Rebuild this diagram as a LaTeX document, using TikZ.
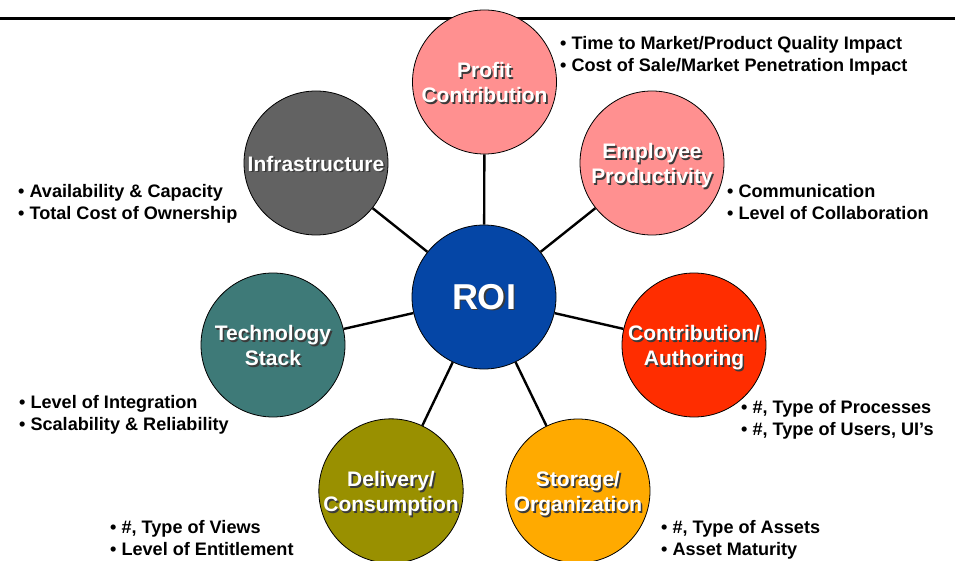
\documentclass[tikz,border=0pt]{standalone}
\usepackage{fontspec}
\setmainfont{Liberation Sans}
\definecolor{pinkc}{HTML}{FF9090}
\definecolor{grayc}{HTML}{626262}
\definecolor{tealc}{HTML}{3E7A78}
\definecolor{bluec}{HTML}{0546A6}
\definecolor{redc}{HTML}{FF2D00}
\definecolor{olivec}{HTML}{999000}
\definecolor{orangec}{HTML}{FFAA00}
\definecolor{shadowc}{HTML}{3A3A3A}
\newlength\txtdrop
\setlength\txtdrop{4pt}
\newcommand\shtxt[1]{\raisebox{-\txtdrop}[\height][\depth]{\rlap{\kern1.6pt\raisebox{-1.6pt}{\color{shadowc}\begin{tabular}{@{}c@{}}#1\end{tabular}}}\begin{tabular}{@{}c@{}}#1\end{tabular}}}
\tikzset{
  ball/.style={circle, draw=black, line width=0.8pt, minimum size=144pt, inner sep=0pt,
    text=white, font=\fontsize{21}{25}\selectfont\bfseries},
  conn/.style={line width=2.4pt, black},
  bul/.style={anchor=west, inner sep=0pt, align=left, font=\fontsize{18.1}{22}\selectfont\bfseries},
}
\begin{document}
\begin{tikzpicture}[x=1pt,y=-1pt]
\useasboundingbox (0,0) rectangle (955,561);
\coordinate (tl) at (0,18.8);
\coordinate (tr) at (955,18.8);
\draw[line width=3pt] (tl) -- (tr);
\node[ball, fill=bluec, font=\fontsize{36}{40}\selectfont\bfseries] (roi) at (484,297) {\setlength\txtdrop{5pt}\shtxt{ROI}};
\node[ball, fill=pinkc] (pc) at (484.5,82) {\shtxt{Profit\\Contribution}};
\node[ball, fill=pinkc] (ep) at (652,163) {\shtxt{Employee\\Productivity}};
\node[ball, fill=grayc] (inf) at (316,163) {\shtxt{Infrastructure}};
\node[ball, fill=tealc] (ts) at (273,345) {\shtxt{Technology\\Stack}};
\node[ball, fill=redc] (ca) at (694,345) {\shtxt{Contribution/\\Authoring}};
\node[ball, fill=olivec] (dc) at (391,491) {\shtxt{Delivery/\\Consumption}};
\node[ball, fill=orangec] (so) at (578,491) {\shtxt{Storage/\\Organization}};
\foreach \n in {pc,ep,inf,ts,ca,dc,so} \draw[conn] (roi) -- (\n);
\node[bul] (bpc) at (560,55.5) {• Time to Market/Product Quality Impact\\• Cost of Sale/Market Penetration Impact};
\node[bul] (bep) at (727,202) {• Communication\\• Level of Collaboration};
\node[bul] (binf) at (18,203.5) {• Availability \& Capacity\\• Total Cost of Ownership};
\node[bul] (bts) at (19,415) {• Level of Integration\\• Scalability \& Reliability};
\node[bul] (bca) at (741,419.5) {• \#, Type of Processes\\• \#, Type of Users, UI’s};
\node[bul] (bdc) at (110,538.5) {• \#, Type of Views\\• Level of Entitlement};
\node[bul] (bso) at (661,539.5) {• \#, Type of Assets\\• Asset Maturity};
\end{tikzpicture}
\end{document}
